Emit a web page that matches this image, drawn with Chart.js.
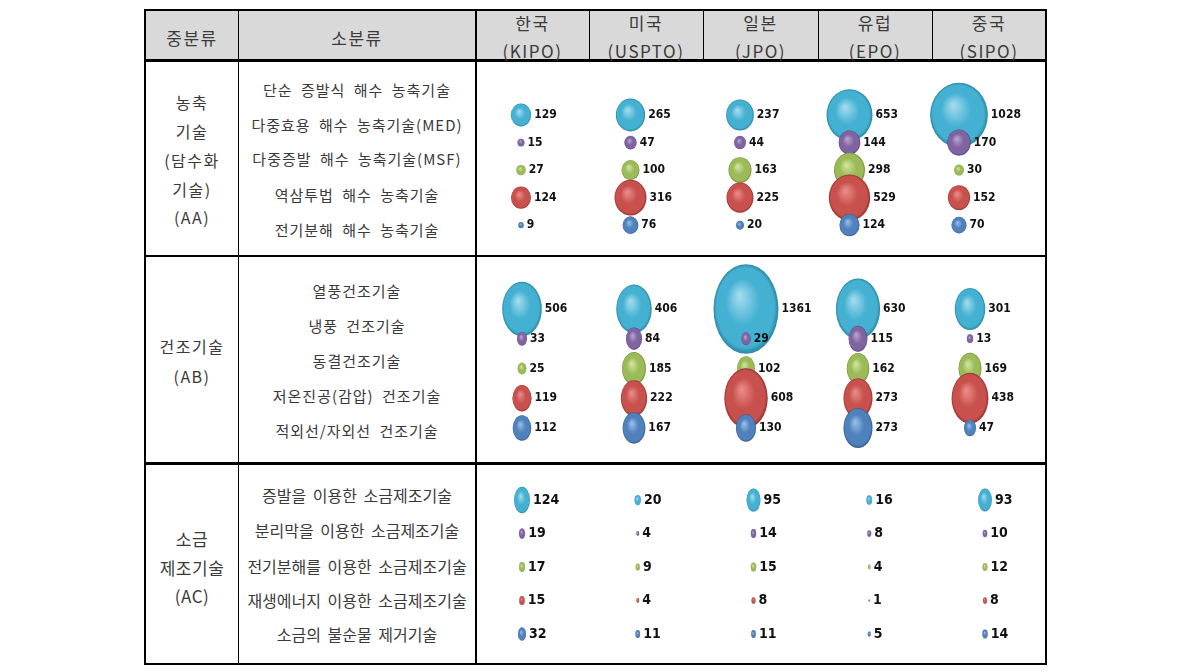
<!DOCTYPE html>
<html>
<head>
<meta charset="utf-8">
<script src="https://cdn.jsdelivr.net/npm/chart.js@4.4.1/dist/chart.umd.min.js"></script>
<style>
  body { margin: 0; background: #fff; width: 1190px; height: 672px; position: relative; overflow: hidden; }
  .ln { position: absolute; background: #000; }
  .tx { position: absolute; text-align: center; transform: translateY(-50%); white-space: nowrap;
        font-family: "Noto Sans CJK KR", "Noto Sans", sans-serif; color: #3a3a3a; font-size: 15px;
        letter-spacing: 1px; word-spacing: 4px; line-height: 1; }
  .hd { font-size: 17px; letter-spacing: 1.5px; }
  .mid { font-size: 16px; letter-spacing: 1.5px; }
  canvas { position: absolute; }
</style>
</head>
<body>
<div id="table"></div>
<canvas id="aa" width="568" height="192" style="left:477px;top:63px"></canvas>
<canvas id="ab" width="568" height="205" style="left:477px;top:257px"></canvas>
<canvas id="ac" width="568" height="198" style="left:477px;top:465px"></canvas>
<script>
// 국가(특허청)
const countries = ['한국', '미국', '일본', '유럽', '중국'];
const offices = ['(KIPO)', '(USPTO)', '(JPO)', '(EPO)', '(SIPO)'];

// 농축기술 (AA)
const midAA = ['농축', '기술', '(담수화', '기술)', '(AA)'];
const subAA = ['단순 증발식 해수 농축기술', '다중효용 해수 농축기술(MED)', '다중증발 해수 농축기술(MSF)', '역삼투법 해수 농축기술', '전기분해 해수 농축기술'];
const valAA = [
  [129, 265, 237, 653, 1028],
  [15, 47, 44, 144, 170],
  [27, 100, 163, 298, 30],
  [124, 316, 225, 529, 152],
  [9, 76, 20, 124, 70]
];

// 건조기술 (AB)
const midAB = ['건조기술', '(AB)'];
const subAB = ['열풍건조기술', '냉풍 건조기술', '동결건조기술', '저온진공(감압) 건조기술', '적외선/자외선 건조기술'];
const valAB = [
  [506, 406, 1361, 630, 301],
  [33, 84, 29, 115, 13],
  [25, 185, 102, 162, 169],
  [119, 222, 608, 273, 438],
  [112, 167, 130, 273, 47]
];

// 소금제조기술 (AC)
const midAC = ['소금', '제조기술', '(AC)'];
const subAC = ['증발을 이용한 소금제조기술', '분리막을 이용한 소금제조기술', '전기분해를 이용한 소금제조기술', '재생에너지 이용한 소금제조기술', '소금의 불순물 제거기술'];
const valAC = [
  [124, 20, 95, 16, 93],
  [19, 4, 14, 8, 10],
  [17, 9, 15, 4, 12],
  [15, 4, 8, 1, 8],
  [32, 11, 11, 5, 14]
];

// 행별 색 (base, light, dark)
const rowColors = [
  ['#44b1d2', '#9fd9ec', '#2a86a4'],
  ['#8064a2', '#b8a2d2', '#5a4180'],
  ['#9bbb59', '#cde49a', '#72903a'],
  ['#c8504d', '#e88a86', '#963230'],
  ['#4f81bd', '#96bbe6', '#34598c']
];

// ---- table frame (html) ----
const tbl = document.getElementById('table');
function line(x, y, w, h) {
  const d = document.createElement('div');
  d.className = 'ln';
  d.style.cssText = `left:${x}px;top:${y}px;width:${w}px;height:${h}px`;
  tbl.appendChild(d);
}
function text(str, x, w, y, cls, extra) {
  const d = document.createElement('div');
  d.className = 'tx ' + (cls || '');
  d.textContent = str;
  d.style.cssText = `left:${x}px;width:${w}px;top:${y}px;` + (extra || '');
  tbl.appendChild(d);
}
const head = document.createElement('div');
head.style.cssText = 'position:absolute;left:145px;top:10px;width:901px;height:49px;background:#d9d9d9';
tbl.appendChild(head);

line(144, 9, 903, 2);
line(144, 663, 903, 2);
line(144, 9, 2, 656);
line(1045, 9, 2, 656);
line(144, 59, 903, 3);
line(144, 255, 903, 2);
line(144, 462, 903, 3);
line(238, 9, 1, 656);
line(475, 9, 2, 656);
[589, 703, 818, 932].forEach(x => line(x, 9, 1, 51));

const colX = [476, 589, 703, 818, 932, 1046];
text('중분류', 146, 92, 37, 'hd');
text('소분류', 239, 236, 37, 'hd');
countries.forEach((c, i) => {
  text(c, colX[i], colX[i + 1] - colX[i], 22, 'hd');
  text(offices[i], colX[i], colX[i + 1] - colX[i], 50, 'hd');
});

[102, 131, 160, 189, 217].forEach((y, i) => text(midAA[i], 146, 92, y, 'mid'));
[346, 376].forEach((y, i) => text(midAB[i], 146, 92, y, 'mid'));
[538, 567, 595].forEach((y, i) => text(midAC[i], 146, 92, y, 'mid', 'font-size:17px;letter-spacing:0.5px'));

[89, 124, 158, 194, 229].forEach((y, i) => text(subAA[i], 239, 236, y));
[290, 325, 360, 395, 430].forEach((y, i) => text(subAB[i], 239, 236, y));
[495, 530, 566, 600, 634].forEach((y, i) => text(subAC[i], 239, 236, y, '', 'font-size:16px;letter-spacing:0;word-spacing:3px'));

// ---- bubbles: ellipse with 3D shading, drawn at the library's point positions ----
const ellipseBubbles = {
  id: 'ellipseBubbles',
  beforeDatasetsDraw(chart, args, opts) {
    const ctx = chart.ctx;
    const pts = [];
    chart.data.datasets.forEach((ds, i) => {
      const meta = chart.getDatasetMeta(i);
      const [base, light, dark] = rowColors[i];
      meta.data.forEach((pt, j) => {
        const rx = pt.options.radius;
        if (!rx) return;
        ctx.save();
        ctx.translate(pt.x, pt.y);
        ctx.scale(1, opts.stretch);
        const g = ctx.createRadialGradient(-rx * 0.2, -rx * 0.3, rx * 0.05, 0, 0, rx);
        g.addColorStop(0, light);
        g.addColorStop(0.5, base);
        g.addColorStop(0.88, base);
        g.addColorStop(1, dark);
        ctx.beginPath();
        ctx.arc(0, 0, rx, 0, Math.PI * 2);
        ctx.fillStyle = g;
        ctx.fill();
        ctx.restore();
        pts.push([pt.x + rx + opts.gap, pt.y, ds.data[j].v]);
      });
    });
    ctx.save();
    ctx.fillStyle = '#111';
    ctx.font = opts.font;
    ctx.textBaseline = 'middle';
    ctx.textAlign = 'left';
    pts.forEach(([x, y, v]) => ctx.fillText(String(v), x, y));
    ctx.restore();
    return false;
  }
};

function section(id, subs, vals, k, stretch, pad, font) {
  const datasets = vals.map((row, i) => ({
    label: subs[i],
    data: row.map((v, j) => ({ x: countries[j], y: subs[i], r: k * Math.sqrt(v), v: v })),
    backgroundColor: rowColors[i][0]
  }));
  return new Chart(document.getElementById(id), {
    type: 'bubble',
    data: { datasets },
    options: {
      responsive: false,
      animation: false,
      layout: { padding: pad },
      scales: {
        x: { type: 'category', labels: countries, offset: false, display: false },
        y: { type: 'category', labels: subs, offset: false, display: false }
      },
      plugins: {
        legend: { display: false },
        tooltip: { enabled: false },
        ellipseBubbles: { stretch: stretch, gap: 3, font: font }
      }
    },
    plugins: [ellipseBubbles]
  });
}

const numFont = 'bold 12px "Liberation Sans Narrow", "DejaVu Sans Condensed", sans-serif';
section('aa', subAA, valAA, 0.9, 1.12, { left: 44, right: 86, top: 52, bottom: 26 }, numFont);
section('ab', subAB, valAB, 0.88, 1.38, { left: 45, right: 75, top: 52, bottom: 34 }, numFont);
section('ac', subAC, valAC, 0.72, 1.65, { left: 45, right: 60, top: 35, bottom: 29 },
  'bold 14px "Liberation Sans Narrow", "DejaVu Sans Condensed", sans-serif');
</script>
</body>
</html>
